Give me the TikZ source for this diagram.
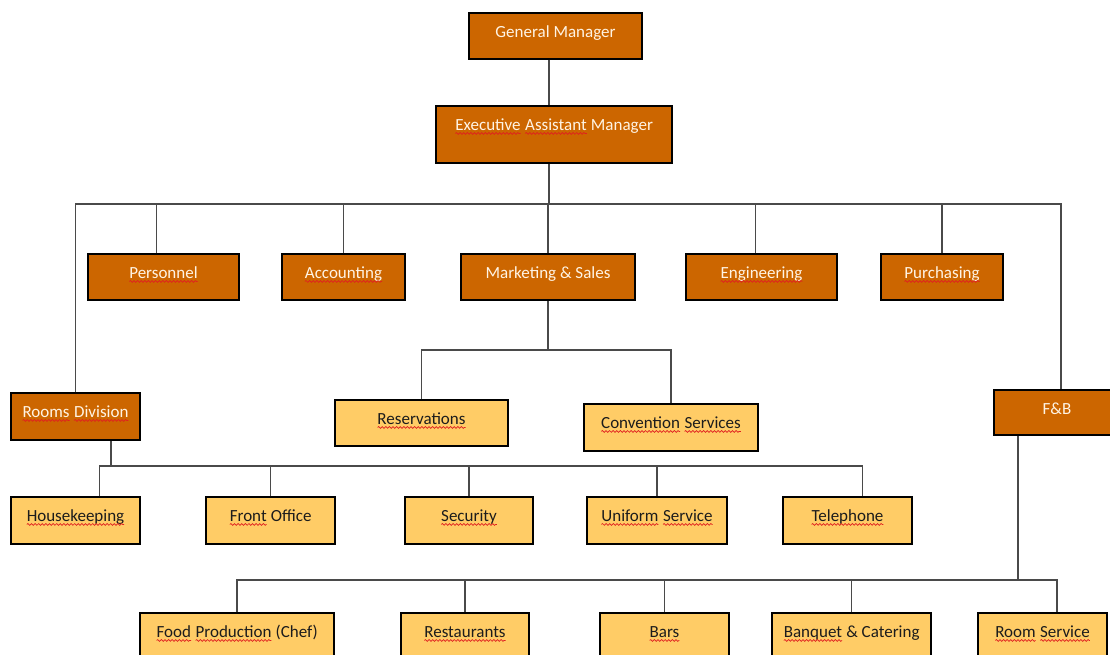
\documentclass[tikz,border=0pt]{standalone}
\usepackage{fontspec}
\setmainfont{Carlito}
\usetikzlibrary{decorations.pathmorphing}

\definecolor{unitdark}{HTML}{CC6600}
\definecolor{unitlight}{HTML}{FFCC66}
\definecolor{wire}{HTML}{4A4A4A}
\definecolor{spellred}{HTML}{E02020}
\definecolor{lighttext}{HTML}{FFF4E4}
\definecolor{darktext}{HTML}{1C1C1C}

% word with a red wavy underline
\newcommand\wavy[1]{\tikz[baseline=(w.base)]{%
  \node[inner sep=0pt,outer sep=0pt,draw=none,fill=none,anchor=base] (w) at (0,0) {#1};
  \draw[spellred,line width=0.7pt,decorate,
        decoration={snake,segment length=3.6pt,amplitude=0.9pt}]
    ([yshift=-3.2pt]w.base west) -- ([yshift=-3.2pt]w.base east);}}

% unit box: name, style, centre x, centre y, width, height, text
\newcommand\orgunit[7]{%
  \node[#2, minimum width=#5pt, minimum height=#6pt] (#1) at (#3,#4) {};
  \node[unittext, #2text] (#1-t) at ([yshift=-25pt]#1.north) {#7};}

\begin{document}
\begin{tikzpicture}[x=1pt,y=-1pt,
  darkunit/.style={draw=black, line width=1.5pt, fill=unitdark, inner sep=0pt},
  lightunit/.style={draw=black, line width=1.5pt, fill=unitlight, inner sep=0pt},
  unittext/.style={anchor=base, inner sep=0pt, font=\fontsize{17}{20}\selectfont},
  darkunittext/.style={text=lighttext},
  lightunittext/.style={text=darktext},
  link/.style={draw=wire, line width=1.8pt}]

\useasboundingbox (0,0) rectangle (1110,655);
\clip (0,0) rectangle (1110,655);

% management
\orgunit{gm}{darkunit}{555.5}{36}{173}{46}{General Manager}
\orgunit{eam}{darkunit}{554}{134.5}{236}{57}{\wavy{Executive} \wavy{Assistant} Manager}

% departments
\orgunit{pers}{darkunit}{163.5}{277}{151}{46}{\wavy{Personnel}}
\orgunit{acc}{darkunit}{343.5}{277}{123}{46}{\wavy{Accounting}}
\orgunit{mkt}{darkunit}{548}{277}{174}{46}{Marketing \& Sales}
\orgunit{eng}{darkunit}{761.5}{277}{151}{46}{\wavy{Engineering}}
\orgunit{pur}{darkunit}{942}{277}{122}{46}{\wavy{Purchasing}}
\orgunit{rd}{darkunit}{75.5}{416.5}{129}{47}{\wavy{Rooms} \wavy{Division}}
\orgunit{fb}{darkunit}{1057}{412.5}{126}{45}{F\&B}

% marketing sections
\orgunit{res}{lightunit}{421.5}{423}{173}{46}{\wavy{Reservations}}
\orgunit{conv}{lightunit}{671}{427.5}{174}{47}{\wavy{Convention} \wavy{Services}}

% rooms division sections
\orgunit{hk}{lightunit}{75.5}{520.5}{129}{47}{\wavy{Housekeeping}}
\orgunit{fo}{lightunit}{270.5}{520.5}{129}{47}{\wavy{Front} Office}
\orgunit{sec}{lightunit}{469}{520.5}{128}{47}{\wavy{Security}}
\orgunit{uni}{lightunit}{657}{520.5}{140}{47}{\wavy{Uniform} \wavy{Service}}
\orgunit{tel}{lightunit}{847.5}{520.5}{129}{47}{\wavy{Telephone}}

% food and beverage sections
\orgunit{food}{lightunit}{237}{638}{194}{50}{\wavy{Food} \wavy{Production} (Chef)}
\orgunit{rest}{lightunit}{465}{638}{128}{50}{\wavy{Restaurants}}
\orgunit{bars}{lightunit}{664.5}{638}{129}{50}{\wavy{Bars}}
\orgunit{banq}{lightunit}{851.5}{638}{159}{50}{\wavy{Banquet} \& Catering}
\orgunit{rsv}{lightunit}{1042.5}{638}{129}{50}{\wavy{Room} \wavy{Service}}

% bus junctions
\coordinate (b1) at (549,204);
\coordinate (b2) at (548,350);
\coordinate (b3) at (111,466);
\coordinate (b4) at (1018,580);

% management line
\draw[link] (b1 |- gm.south) -- (b1 |- eam.north);
\draw[link] (b1 |- eam.south) -- (b1);

% department bus
\draw[link] (rd.north) |- (b1) -| ([xshift=4pt]fb.north);
\draw[link] ([xshift=-7pt]pers.north) -- ([xshift=-7pt]pers.north |- b1);
\draw[link] ([xshift=-6pt]eng.north) -- ([xshift=-6pt]eng.north |- b1);
\foreach \d in {acc,mkt,pur}
  \draw[link] (\d.north) -- (\d.north |- b1);

% marketing bus
\draw[link] (mkt.south) -- (b2);
\draw[link] (res.north) |- (b2) -| (conv.north);

% rooms division bus
\draw[link] (b3 |- rd.south) -- (b3);
\draw[link] ([xshift=24pt]hk.north) |- (b3) -| ([xshift=15pt]tel.north);
\foreach \d in {fo,sec,uni}
  \draw[link] (\d.north) -- (\d.north |- b3);

% food and beverage bus
\draw[link] (b4 |- fb.south) -- (b4);
\draw[link] (food.north) |- (b4) -| ([xshift=14.5pt]rsv.north);
\foreach \d in {rest,bars,banq}
  \draw[link] (\d.north) -- (\d.north |- b4);

\end{tikzpicture}
\end{document}
